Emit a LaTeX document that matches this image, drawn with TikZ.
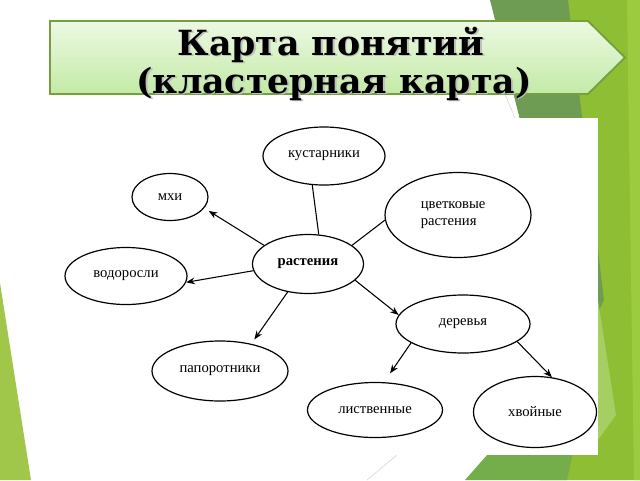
\documentclass[tikz,border=0pt]{standalone}
\usepackage{fontspec}
\setmainfont{Liberation Serif}
\newfontfamily\titlefont{DejaVu Serif}
\usetikzlibrary{shapes.geometric,arrows.meta}
\definecolor{gbase}{HTML}{8DBE33}
\definecolor{gdark}{HTML}{6E9C53}
\definecolor{gmid}{HTML}{74AE4B}
\definecolor{gstrip}{HTML}{9CCB3F}
\definecolor{glight}{HTML}{A5CF63}
\definecolor{gleft}{HTML}{A0C74A}
\definecolor{bannerTop}{HTML}{ECF9E3}
\definecolor{bannerBot}{HTML}{C3EAA6}
\definecolor{bannerEdge}{HTML}{76A03E}
\tikzset{
  bub/.style={ellipse, draw=black, line width=0.9pt, inner sep=0pt, fill=white,
    font=\fontsize{11}{12.5}\selectfont},
  plainlink/.style={draw=black, line width=0.8pt},
  arrlink/.style={draw=black, line width=0.8pt, -{Stealth[length=6.5pt,width=5pt]}},
  titletext/.style={font=\titlefont\fontsize{26}{30}\selectfont\bfseries, inner sep=0pt, anchor=base},
}
\begin{document}
\begin{tikzpicture}[x=0.75pt,y=-0.75pt]
\useasboundingbox (0,0) rectangle (640,480);
\fill[white] (0,0) rectangle (640,480);
% background facets
\fill[gbase] (555,0) -- (640,0) -- (640,480) -- (540,480) -- cycle;
\fill[gdark] (490,0) -- (568,0) -- (604,300) -- (578,352) -- cycle;
\fill[gmid] (578,352) -- (600,330) -- (567,480) -- (465,480) -- cycle;
\fill[gstrip] (627,0) -- (640,0) -- (640,480) -- (634,480) -- cycle;
\fill[glight] (598,300) -- (616,415) -- (598,440) -- cycle;
\fill[gleft] (0,283) -- (31,480) -- (0,480) -- cycle;
\draw[gray!30, line width=0.5pt] (505,94) -- (515,118);
\draw[gray!30, line width=0.5pt] (367,480) -- (397,455);
% title banner
\shade[top color=bannerTop, bottom color=bannerBot, draw=bannerEdge, line width=1.4pt]
  (50,21) -- (588,21) -- (625,57.5) -- (588,94) -- (50,94) -- cycle;
\node[titletext, text=black!25] at (332.5,56.5) {Карта понятий};
\node[titletext, text=black!25] at (335.5,94.5) {(кластерная карта)};
\node[titletext] (t1) at (331,55) {Карта понятий};
\node[titletext] (t2) at (334,93) {(кластерная карта)};
% embedded picture area
\fill[white] (62,118) rectangle (598,455);
% concept map
\node[bub, minimum width=122*0.75pt, minimum height=58*0.75pt] (kust) at (324,156) {кустарники};
\node[bub, minimum width=76*0.75pt, minimum height=47*0.75pt] (mhi) at (170,197) {мхи};
\node[bub, minimum width=122*0.75pt, minimum height=57*0.75pt] (vodo) at (126,276) {водоросли};
\node[bub, minimum width=111*0.75pt, minimum height=59*0.75pt, font=\fontsize{11}{12.5}\selectfont\bfseries] (rast) at (308,264) {растения};
\node[bub, minimum width=146*0.75pt, minimum height=85*0.75pt, align=left] (cvet) at (458,215) {цветковые\\растения\hspace*{14pt}};
\node[bub, minimum width=134*0.75pt, minimum height=58*0.75pt] (derev) at (463,324) {деревья};
\node[bub, minimum width=135*0.75pt, minimum height=55*0.75pt] (list) at (375,410) {лиственные};
\node[bub, minimum width=123*0.75pt, minimum height=71*0.75pt] (hvoi) at (535,412) {хвойные};
\node[bub, minimum width=136*0.75pt, minimum height=60*0.75pt] (papo) at (220,371) {папоротники};
% connectors
\draw[plainlink] (kust.248) -- (rast.70);
\draw[plainlink] (rast.23) -- (cvet.184);
\draw[arrlink, shorten >=4pt] (rast.157) -- (mhi.342);
\draw[arrlink] (rast.187) -- (vodo.354);
\draw[arrlink] (rast.341) -- (derev.172);
\draw[arrlink, shorten >=4pt] (rast.234) -- (papo.41);
\draw[arrlink, shorten >=8pt] (derev.200) -- (list.72);
\draw[arrlink] (derev.342) -- (hvoi.64);
\end{tikzpicture}
\end{document}
